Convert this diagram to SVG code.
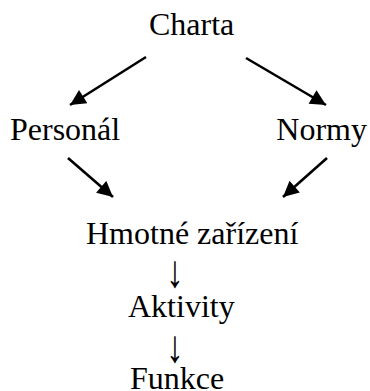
<svg xmlns="http://www.w3.org/2000/svg" width="370" height="391" viewBox="0 0 370 391" font-family="Liberation Serif, DejaVu Serif, serif">
<style>
text{font-size:32px;fill:#000}
.c{stroke:#000;stroke-width:2.6;fill:none}
</style>
<defs>
<marker id="ah" viewBox="0 0 10 10" refX="10" refY="5" markerWidth="6.5" markerHeight="6" markerUnits="strokeWidth" orient="auto">
<path d="M0,0 L10,5 L0,10 z" fill="#000"/>
</marker>
</defs>
<rect width="370" height="391" fill="#fff"/>
<g id="connectors">
<line class="c" x1="146" y1="57" x2="70" y2="105" marker-end="url(#ah)"/>
<line class="c" x1="246" y1="58" x2="326" y2="105" marker-end="url(#ah)"/>
<line class="c" x1="68" y1="158" x2="113" y2="197" marker-end="url(#ah)"/>
<line class="c" x1="327" y1="158" x2="283" y2="197" marker-end="url(#ah)"/>
<text transform="translate(175,287) scale(1.1,1.42)" text-anchor="middle" font-family="Liberation Serif, serif">↓</text>
<text transform="translate(175,362) scale(1.1,1.42)" text-anchor="middle" font-family="Liberation Serif, serif">↓</text>
</g>
<g id="charta"><text x="149" y="35" font-family="Liberation Serif, serif">Charta</text></g>
<g id="personal"><text x="10" y="139.5" font-family="Liberation Serif, serif">Personál</text></g>
<g id="normy"><text x="367" y="139.5" text-anchor="end" font-family="Liberation Serif, serif">Normy</text></g>
<g id="hmotne"><text x="86" y="244" font-family="Liberation Serif, serif">Hmotné zařízení</text></g>
<g id="aktivity"><text x="128" y="317" font-family="Liberation Serif, serif">Aktivity</text></g>
<g id="funkce"><text x="130" y="389" font-family="Liberation Serif, serif">Funkce</text></g>
</svg>
